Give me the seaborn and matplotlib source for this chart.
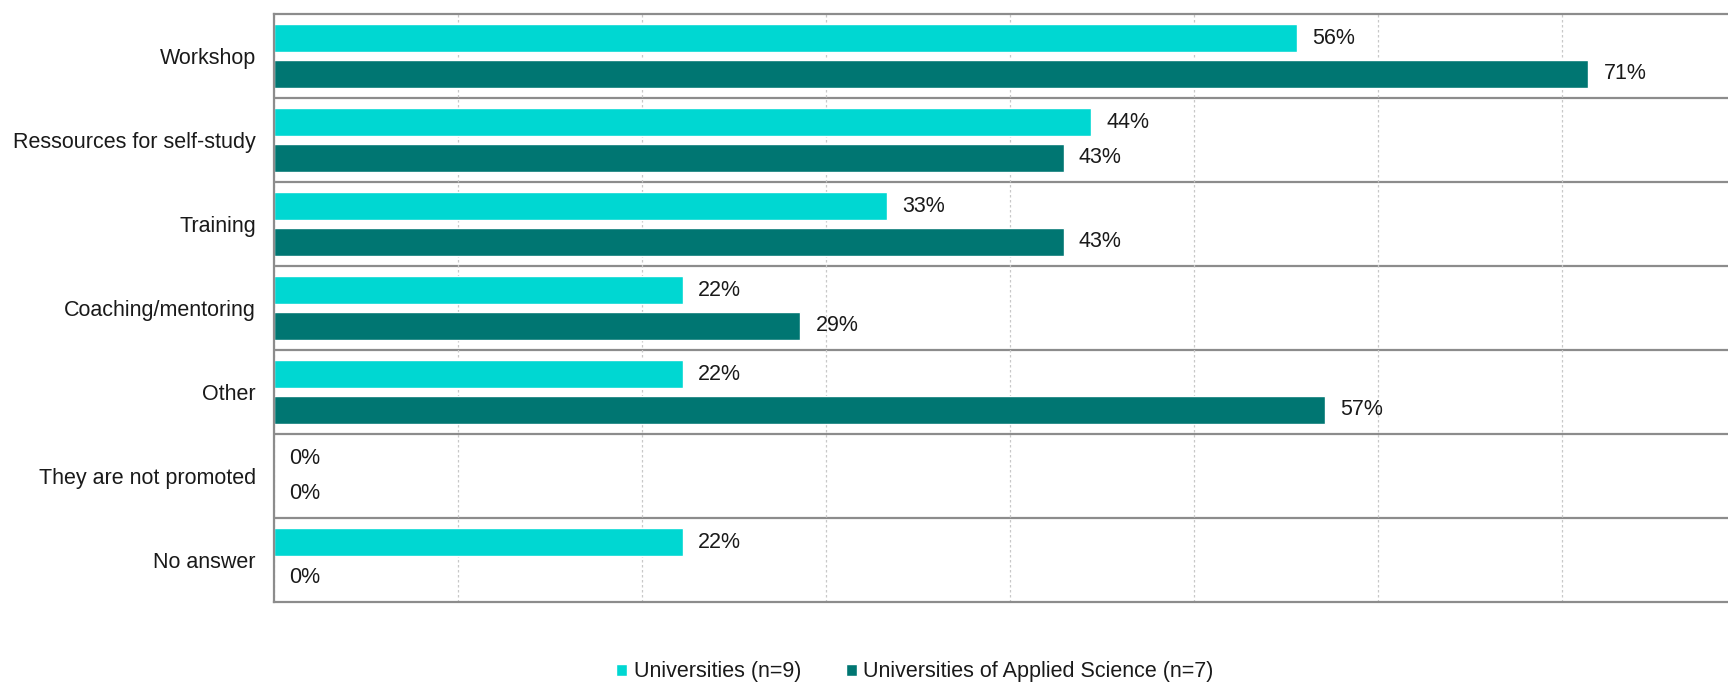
import pandas as pd
import matplotlib.pyplot as plt
import seaborn as sns

# Dados (percentagens)
categorias = ["Workshop", "Ressources for self-study", "Training", "Coaching/mentoring",
              "Other", "They are not promoted", "No answer"]
universidades = [55.6, 44.4, 33.3, 22.2, 22.2, 0.0, 22.2]
aplicadas = [71.4, 42.9, 42.9, 28.6, 57.1, 0.0, 0.0]
grupos = ["Universities (n=9)", "Universities of Applied Science (n=7)"]
cores = ["#00D7D2", "#007672"]

dados = pd.DataFrame({
    "categoria": categorias * 2,
    "valor": universidades + aplicadas,
    "grupo": [grupos[0]] * len(categorias) + [grupos[1]] * len(categorias),
})

sns.set_style("white")
plt.rcParams['font.family'] = ['Liberation Sans', 'DejaVu Sans']

fig = plt.figure(figsize=(17.28, 6.86), dpi=100)
ax = fig.add_axes([274 / 1728, 84 / 686, 1 - 274 / 1728, (602 - 14) / 686])

sns.barplot(data=dados, y="categoria", x="valor", hue="grupo", orient="h",
            palette=cores, saturation=1, width=0.84, gap=0.2, ax=ax, legend=True)

# Rótulos das barras
for cont in ax.containers:
    ax.bar_label(cont, fmt="%.0f%%", padding=11, fontsize=15.5, color="#1a1a1a")

ax.set_xlim(0, 79)
ax.set_ylim(6.5, -0.5)
ax.set_xticks(range(0, 80, 10))
ax.set_xticklabels([])
ax.xaxis.grid(True, linestyle=(0, (2, 2)), color="#c8c8c8", linewidth=0.9)
ax.set_axisbelow(True)
ax.set_xlabel("")
ax.set_ylabel("")
ax.tick_params(axis="y", length=0, pad=13, labelsize=15.5, labelcolor="#1a1a1a")
ax.tick_params(axis="x", length=0)

# Linhas separadoras entre categorias
for i in range(len(categorias) - 1):
    ax.axhline(i + 0.5, color="#8c8c8c", linewidth=1.6, zorder=0.5)

for lado in ["top", "left", "bottom"]:
    ax.spines[lado].set_color("#8c8c8c")
    ax.spines[lado].set_linewidth(1.6)
ax.spines["right"].set_visible(False)

sns.move_legend(ax, "center", bbox_to_anchor=(915 / 1728, 14 / 686),
                bbox_transform=fig.transFigure, ncol=2, frameon=False, title=None,
                fontsize=15.5, handlelength=0.5, handleheight=0.5,
                handletextpad=0.3, columnspacing=2.1)
for t in ax.get_legend().get_texts():
    t.set_color("#1a1a1a")

fig.savefig("out.png", dpi=100)
